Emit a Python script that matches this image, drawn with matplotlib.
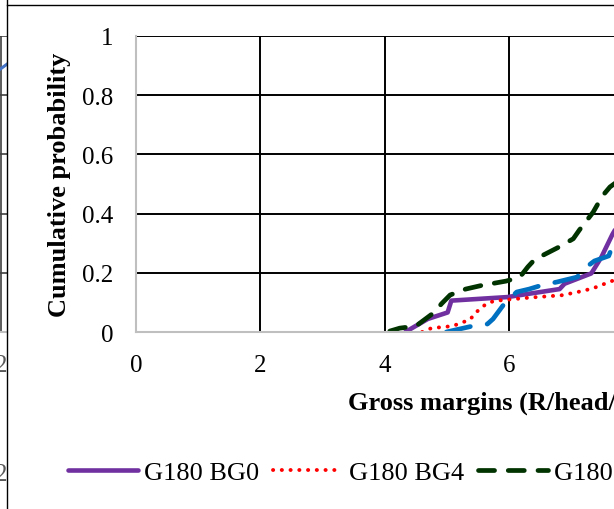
import numpy as np
import matplotlib
matplotlib.use('Agg')
import matplotlib.pyplot as plt
from matplotlib.lines import Line2D

# Cumulative distributions of gross margins
BG0_X = [4.33, 4.69, 5.01, 5.07, 5.97, 6.81, 6.89, 7.32, 7.48, 7.66, 7.80]
BG0_Y = [0.0, 0.044, 0.066, 0.106, 0.118, 0.145, 0.163, 0.198, 0.252, 0.33, 0.38]

BG4_X = [4.60, 4.75, 5.09, 5.37, 5.47, 5.63, 5.76, 6.32, 6.84, 7.08, 7.34, 7.61, 7.75]
BG4_Y = [0.0, 0.013, 0.02, 0.042, 0.067, 0.095, 0.105, 0.116, 0.124, 0.134, 0.147, 0.169, 0.18]

BG8_X = [4.08, 4.24, 4.50, 4.80, 4.91, 5.05, 5.30, 5.55, 5.95, 6.17, 6.30, 6.41,
         6.80, 7.03, 7.13, 7.35, 7.50, 7.62, 7.75]
BG8_Y = [0.003, 0.013, 0.02, 0.067, 0.095, 0.125, 0.145, 0.157, 0.172, 0.185, 0.22, 0.245,
         0.287, 0.315, 0.345, 0.405, 0.46, 0.49, 0.51]

BG12_X = [4.99, 5.41, 5.65, 5.74, 5.92, 6.12, 6.32, 6.54, 6.77, 7.10, 7.15, 7.37, 7.60, 7.66, 7.75]
BG12_Y = [0.0, 0.02, 0.027, 0.044, 0.095, 0.135, 0.145, 0.159, 0.169, 0.186, 0.205, 0.24, 0.257, 0.29, 0.33]

LABELS = ['G180 BG0', 'G180 BG4', 'G180 BG8', 'G180 BG12']
Y_TICKS = [0, 0.2, 0.4, 0.6, 0.8, 1.0]
Y_TICK_LABELS = ['0', '0.2', '0.4', '0.6', '0.8', '1']
X_TICKS = [0, 2, 4, 6]

# neighbouring chart, only its right edge is visible
PREV_X = [0.70, 0.86, 1.0]
PREV_Y = [0.86, 0.885, 0.905]

plt.rcParams['font.family'] = ['Liberation Serif', 'DejaVu Serif']

W, H = 614, 510
fig = plt.figure(figsize=(W / 100, H / 100), dpi=100)

def px(x0, y0, x1, y1):
    """pixel box (top-left origin) -> figure fraction rect"""
    return [x0 / W, 1 - y1 / H, (x1 - x0) / W, (y1 - y0) / H]

GRID_KW = dict(color='black', linewidth=1.4)
SPINE_GREY = '#BFBFBF'

# --- left neighbour fragment ---
axp = fig.add_axes(px(-50, 37, 7, 333))
axp.set_xlim(0, 1)
axp.set_ylim(0, 1)
axp.set_yticks(Y_TICKS[1:])
axp.set_xticks([0.895])
axp.grid(True, color='#404040', linewidth=1.2)
axp.tick_params(length=0, labelleft=False, labelbottom=False)
for s in axp.spines.values():
    s.set_visible(False)
axp.spines['bottom'].set_visible(True)
axp.spines['bottom'].set_color(SPINE_GREY)
axp.spines['bottom'].set_linewidth(1.5)
axp.plot(PREV_X, PREV_Y, color='#4472C4', linewidth=2.2)
for yy in (372, 481):
    fig.text(7 / W, 1 - yy / H, '2', ha='right', va='baseline', fontsize=18, color='#595959')

# outer chart border
fig.add_artist(Line2D([7 / W, 7 / W], [0, 1], color='black', linewidth=1.0))
fig.add_artist(Line2D([7 / W, 1], [1 - 5.5 / H, 1 - 5.5 / H], color='black', linewidth=1.0))

# --- main chart ---
ax = fig.add_axes(px(136, 37, 614, 333))
x_max = (614 - 136) / 62.2
ax.set_xlim(0, x_max)
ax.set_ylim(0, 1)

ax.plot(BG0_X, BG0_Y, color='#7030A0', linewidth=3.3, solid_capstyle='round', label=LABELS[0])
ax.plot(BG4_X, BG4_Y, color='#FF0000', linewidth=2.8, linestyle=(0, (0.05, 2.2)),
        dash_capstyle='round', label=LABELS[1])
ax.plot(BG8_X, BG8_Y, color='#003300', linewidth=3.4, linestyle=(0, (3.4, 2.9)),
        dash_capstyle='round', label=LABELS[2])
ax.plot(BG12_X, BG12_Y, color='#0070C0', linewidth=3.4, linestyle=(0, (5.2, 3.6)),
        dash_capstyle='round', label=LABELS[3])

ax.set_yticks(Y_TICKS)
ax.set_yticklabels(Y_TICK_LABELS)
ax.set_xticks(X_TICKS)
ax.grid(True, **GRID_KW)
ax.get_ygridlines()[0].set_visible(False)
ax.get_xgridlines()[0].set_visible(False)
ax.set_axisbelow(True)
ax.tick_params(length=0, labelsize=18)
ax.tick_params(axis='y', pad=16.5)
ax.tick_params(axis='x', pad=16)
for side in ('top', 'right'):
    ax.spines[side].set_visible(False)
for side in ('left', 'bottom'):
    ax.spines[side].set_color(SPINE_GREY)
    ax.spines[side].set_linewidth(1.5)

fig.text(60 / W, 1 - 185 / H, 'Cumulative probability', rotation=90, ha='center', va='center',
         fontsize=19, fontweight='bold')
fig.text(348 / W, 1 - 410 / H, 'Gross margins (R/head/day)', ha='left', va='baseline',
         fontsize=19, fontweight='bold')

handles, labels = ax.get_legend_handles_labels()
fig.legend(handles, labels, loc='center left', bbox_to_anchor=(68 / W, 1 - 473 / H),
           ncol=4, frameon=False, fontsize=19, borderpad=0, borderaxespad=0,
           handlelength=2.65, handletextpad=0.23, columnspacing=0.53)

fig.savefig('out.png', dpi=100)
